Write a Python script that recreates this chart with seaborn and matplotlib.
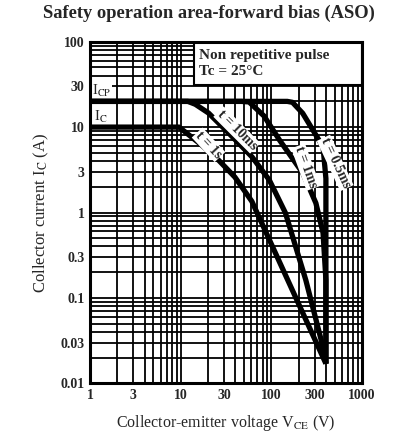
import matplotlib
matplotlib.use('Agg')
import numpy as np
import pandas as pd
import seaborn as sns
from matplotlib import pyplot as plt
from matplotlib.patches import Rectangle
from matplotlib.ticker import FixedLocator, FixedFormatter, LogLocator, NullFormatter

sns.set_style("white")
plt.rcParams['font.family'] = ['Liberation Serif', 'DejaVu Serif']
plt.rcParams['mathtext.fontset'] = 'stix'

# curves: collector-emitter voltage (V), collector current (A)
v_1s = [1, 9.6, 12.5, 16.9, 26.2, 39.6, 61, 133, 400]
i_1s = [10, 10, 8.0, 6.2, 4.1, 2.6, 1.35, 0.22, 0.017]
v_10ms = [1, 12, 14.5, 20.3, 33.9, 61.3, 95, 143, 240, 391, 400]
i_10ms = [20, 20, 18.5, 14.6, 8.5, 4.47, 2.4, 0.99, 0.162, 0.0215, 0.017]
v_1ms = [1, 47, 56.8, 83, 123, 222, 310, 372, 400, 400]
i_1ms = [20, 20, 19.7, 13.5, 7.06, 2.9, 1.29, 0.575, 0.162, 0.017]
v_05ms = [1, 150, 171, 222, 287, 372, 400, 400]
i_05ms = [20, 20, 19.5, 14.5, 9.25, 5.85, 2.5, 0.017]

x_ticks = [1, 3, 10, 30, 100, 300, 1000]
x_labels = ['1', '3', '10', '30', '100', '300', '1000']
y_ticks = [0.01, 0.03, 0.1, 0.3, 1, 3, 10, 30, 100]
y_labels = ['0.01', '0.03', '0.1', '0.3', '1', '3', '10', '30', '100']

curve_labels = ['t = 1s', 't = 10ms', 't = 1ms', 't = 0.5ms']
label_pos = [(20.3, 6.2), (41.7, 9.25), (240, 3.4), (506, 3.8)]
label_rot = [-47, -45, -70, -65]

frames = []
for name, v, i in [('1s', v_1s, i_1s), ('10ms', v_10ms, i_10ms),
                   ('1ms', v_1ms, i_1ms), ('0.5ms', v_05ms, i_05ms)]:
    d = pd.DataFrame({'V': v, 'I': i})
    d['t'] = name
    frames.append(d)
df = pd.concat(frames, ignore_index=True)

fig = plt.figure(figsize=(4.18, 4.32), dpi=100)
ax = fig.add_axes([0.2153, 0.1127, 0.6507, 0.7908])
ax.set_xscale('log')
ax.set_yscale('log')
ax.set(xlim=(1, 1000), ylim=(0.01, 100))

ax.xaxis.set_minor_locator(LogLocator(base=10, subs=np.arange(2, 10)))
ax.yaxis.set_minor_locator(LogLocator(base=10, subs=np.arange(2, 10)))
ax.xaxis.set_minor_formatter(NullFormatter())
ax.yaxis.set_minor_formatter(NullFormatter())
ax.grid(True, which='both', color='black', lw=1.3)
ax.set_axisbelow(True)

sns.lineplot(data=df, x='V', y='I', hue='t', units='t', estimator=None, sort=False,
             palette=['black'] * 4, lw=3.8, legend=False, ax=ax, zorder=3)
for ln in ax.lines:
    ln.set_solid_joinstyle('round')
    ln.set_solid_capstyle('butt')

for txt, (x, y), r in zip(curve_labels, label_pos, label_rot):
    ax.text(x, y, txt, rotation=r, ha='center', va='center', fontsize=10,
            fontweight='bold', zorder=5,
            bbox=dict(facecolor='white', edgecolor='none', pad=0.6))

ax.text(1.06, 26.5, r'I$_{\mathrm{CP}}$', fontsize=10.5, ha='left', va='center', zorder=2,
        bbox=dict(facecolor='white', edgecolor='none', pad=0.1))
ax.text(1.1, 13.3, r'I$_{\mathrm{C}}$', fontsize=10.5, ha='left', va='center', zorder=2,
        bbox=dict(facecolor='white', edgecolor='none', pad=0.1))

ax.add_patch(Rectangle((14.1, 31), 1000 - 14.1, 100 - 31, facecolor='white',
                       edgecolor='black', lw=1.5, zorder=6))
ax.text(16.1, 69, 'Non repetitive pulse', fontsize=11, fontweight='bold',
        ha='left', va='center', zorder=7)
ax.text(16.1, 45, 'Tc = 25°C', fontsize=11, fontweight='bold',
        ha='left', va='center', zorder=7)

ax.xaxis.set_major_locator(FixedLocator(x_ticks))
ax.xaxis.set_major_formatter(FixedFormatter(x_labels))
ax.yaxis.set_major_locator(FixedLocator(y_ticks))
ax.yaxis.set_major_formatter(FixedFormatter(y_labels))
ax.tick_params(which='both', length=0, pad=4, labelsize=10)
for lab in ax.get_xticklabels() + ax.get_yticklabels():
    lab.set_fontweight('bold')

for s in ax.spines.values():
    s.set_color('black')
    s.set_linewidth(2.2)
    s.set_zorder(8)

ax.set_xlabel(r'Collector-emitter voltage V$_{\mathrm{CE}}$ (V)', fontsize=11.5, labelpad=8)
ax.set_ylabel(r'Collector current I$_{\mathrm{C}}$ (A)', fontsize=12, labelpad=7)
fig.text(0.5, 0.968, 'Safety operation area-forward bias (ASO)', ha='center', va='center',
         fontsize=13.3, fontweight='bold')

fig.savefig('out.png', dpi=100)
